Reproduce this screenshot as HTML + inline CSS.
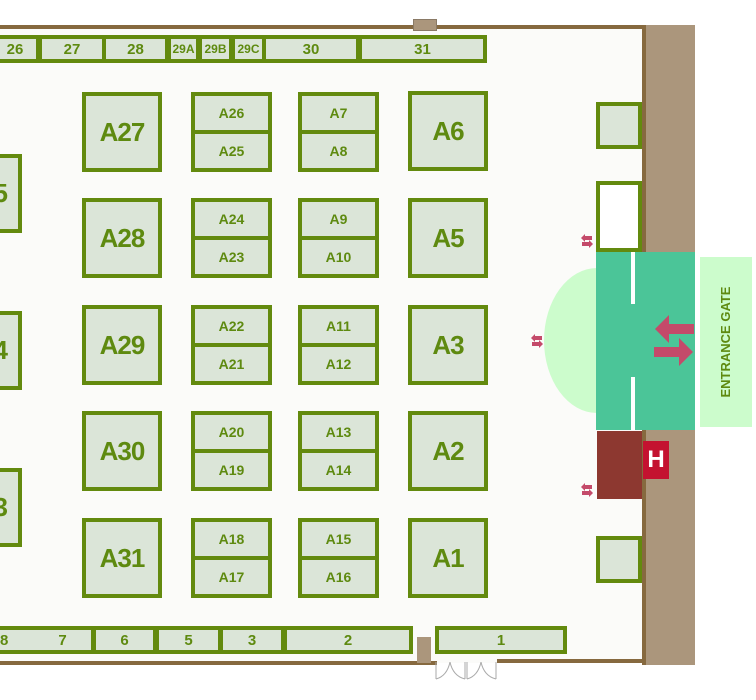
<!DOCTYPE html>
<html><head><style>
body{margin:0;width:756px;height:700px;background:#fff;position:relative;overflow:hidden;font-family:"Liberation Sans",sans-serif;font-weight:bold;color:#5e8a10}
div{position:absolute;box-sizing:border-box}
.b{border:4px solid #638a0e;background:#dbe5d8;display:flex;align-items:center;justify-content:center;font-size:15px}
.L{font-size:26px;letter-spacing:-1px}
.s{font-size:14px}
.p{justify-content:flex-end;padding-right:12px}
</style></head><body>
<div style="left:0;top:27px;width:645px;height:636px;background:#fbfbf9"></div>
<div style="left:0;top:25px;width:646px;height:4px;background:#86693f"></div>
<div style="left:642px;top:25px;width:4px;height:640px;background:#86693f"></div>
<div style="left:646px;top:25px;width:49px;height:640px;background:#ab967c"></div>
<div style="left:413px;top:19px;width:24px;height:12px;background:#ab967c;border:1px solid #8a7a66"></div>
<div style="left:0;top:661px;width:437px;height:4px;background:#86693f"></div>
<div style="left:497px;top:659px;width:149px;height:4px;background:#86693f"></div>
<div style="left:417px;top:637px;width:14px;height:26px;background:#ab967c"></div>
<svg style="position:absolute;left:435px;top:662px" width="62" height="20"><path d="M1 0V17M1 17Q12 14 15 0M30 0V17M30 17Q18 14 15 0M32 0V17M32 17Q43 14 46 0M61 0V17M61 17Q49 14 46 0" stroke="#aaa" fill="none"/></svg>

<div class="b" style="left:-10px;top:35px;width:50px;height:28px">26</div>
<div class="b" style="left:38px;top:35px;width:68px;height:28px">27</div>
<div class="b" style="left:102px;top:35px;width:67px;height:28px">28</div>
<div class="b s" style="left:167px;top:35px;width:33px;height:28px;font-size:12px">29A</div>
<div class="b s" style="left:198px;top:35px;width:35px;height:28px;font-size:12px">29B</div>
<div class="b s" style="left:231px;top:35px;width:35px;height:28px;font-size:12px">29C</div>
<div class="b" style="left:262px;top:35px;width:98px;height:28px">30</div>
<div class="b" style="left:358px;top:35px;width:129px;height:28px">31</div>

<div class="b L p" style="left:-40px;top:154px;width:62px;height:79px;padding-right:11px">5</div>
<div class="b L p" style="left:-40px;top:311px;width:62px;height:79px;padding-right:11px">4</div>
<div class="b L p" style="left:-40px;top:468px;width:62px;height:79px;padding-right:11px">3</div>

<div class="b L" style="left:82px;top:92px;width:80px;height:80px">A27</div>
<div class="b L" style="left:82px;top:198px;width:80px;height:80px">A28</div>
<div class="b L" style="left:82px;top:305px;width:80px;height:80px">A29</div>
<div class="b L" style="left:82px;top:411px;width:80px;height:80px">A30</div>
<div class="b L" style="left:82px;top:518px;width:80px;height:80px">A31</div>
<div class="b L" style="left:408px;top:91px;width:80px;height:80px">A6</div>
<div class="b L" style="left:408px;top:198px;width:80px;height:80px">A5</div>
<div class="b L" style="left:408px;top:305px;width:80px;height:80px">A3</div>
<div class="b L" style="left:408px;top:411px;width:80px;height:80px">A2</div>
<div class="b L" style="left:408px;top:518px;width:80px;height:80px">A1</div>

<div class="b s" style="left:191px;top:92px;width:81px;height:42px">A26</div>
<div class="b s" style="left:191px;top:130px;width:81px;height:42px">A25</div>
<div class="b s" style="left:191px;top:198px;width:81px;height:42px">A24</div>
<div class="b s" style="left:191px;top:236px;width:81px;height:42px">A23</div>
<div class="b s" style="left:191px;top:305px;width:81px;height:42px">A22</div>
<div class="b s" style="left:191px;top:343px;width:81px;height:42px">A21</div>
<div class="b s" style="left:191px;top:411px;width:81px;height:42px">A20</div>
<div class="b s" style="left:191px;top:449px;width:81px;height:42px">A19</div>
<div class="b s" style="left:191px;top:518px;width:81px;height:42px">A18</div>
<div class="b s" style="left:191px;top:556px;width:81px;height:42px">A17</div>
<div class="b s" style="left:298px;top:92px;width:81px;height:42px">A7</div>
<div class="b s" style="left:298px;top:130px;width:81px;height:42px">A8</div>
<div class="b s" style="left:298px;top:198px;width:81px;height:42px">A9</div>
<div class="b s" style="left:298px;top:236px;width:81px;height:42px">A10</div>
<div class="b s" style="left:298px;top:305px;width:81px;height:42px">A11</div>
<div class="b s" style="left:298px;top:343px;width:81px;height:42px">A12</div>
<div class="b s" style="left:298px;top:411px;width:81px;height:42px">A13</div>
<div class="b s" style="left:298px;top:449px;width:81px;height:42px">A14</div>
<div class="b s" style="left:298px;top:518px;width:81px;height:42px">A15</div>
<div class="b s" style="left:298px;top:556px;width:81px;height:42px">A16</div>

<div class="b" style="left:-10px;top:626px;width:105px;height:28px;justify-content:flex-start;padding-left:6px">8<span style="margin-left:50px">7</span></div>
<div class="b" style="left:92px;top:626px;width:65px;height:28px">6</div>
<div class="b" style="left:155px;top:626px;width:67px;height:28px">5</div>
<div class="b" style="left:219px;top:626px;width:66px;height:28px">3</div>
<div class="b" style="left:283px;top:626px;width:130px;height:28px">2</div>
<div class="b" style="left:435px;top:626px;width:132px;height:28px">1</div>

<div class="b" style="left:596px;top:102px;width:46px;height:47px"></div>
<div class="b" style="left:596px;top:181px;width:46px;height:71px;background:#fff"></div>
<div class="b" style="left:596px;top:536px;width:46px;height:47px"></div>

<div style="left:544px;top:268px;width:106px;height:145px;border-radius:50%;background:#ccfccc"></div>
<div style="left:596px;top:252px;width:99px;height:178px;background:#4bc598"></div>
<div style="left:631px;top:252px;width:4px;height:52px;background:#fff"></div>
<div style="left:631px;top:377px;width:4px;height:53px;background:#fff"></div>
<div style="left:700px;top:257px;width:52px;height:170px;background:#ccfccc"></div>
<div style="left:651px;top:334px;width:150px;height:16px;transform:rotate(-90deg);font-size:13px;color:#5e8a10;text-align:center;line-height:16px">ENTRANCE GATE</div>
<svg style="position:absolute;left:650px;top:312px" width="48" height="58"><path d="M5 17L19 3V12H44V22H19V31Z" fill="#c44a6a"/><path d="M43 40L29 26V35H4V45H29V54Z" fill="#c44a6a"/></svg>
<div style="left:597px;top:431px;width:45px;height:68px;background:#8d3830"></div>
<div style="left:643px;top:441px;width:26px;height:38px;background:#c41230;color:#fff;font-size:24px;display:flex;align-items:center;justify-content:center">H</div>
<svg style="position:absolute;left:580px;top:233px" width="14" height="16"><path d="M1 5L5 1V3H12V7H5V9ZM13 11L9 7V9H2V13H9V15Z" fill="#c44a6a"/></svg>
<svg style="position:absolute;left:530px;top:333px" width="14" height="16"><path d="M1 5L5 1V3H12V7H5V9ZM13 11L9 7V9H2V13H9V15Z" fill="#c44a6a"/></svg>
<svg style="position:absolute;left:580px;top:482px" width="14" height="16"><path d="M1 5L5 1V3H12V7H5V9ZM13 11L9 7V9H2V13H9V15Z" fill="#c44a6a"/></svg>
</body></html>
